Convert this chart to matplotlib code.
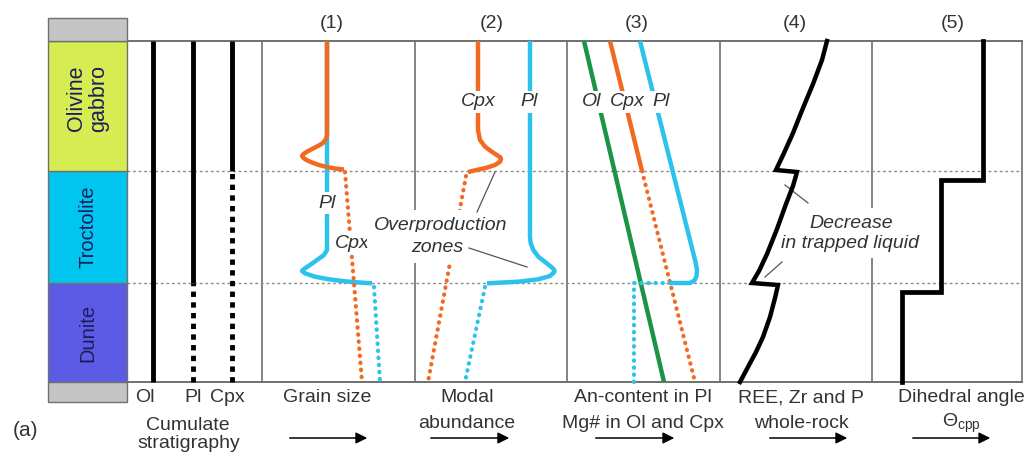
import matplotlib
matplotlib.use('Agg')
import matplotlib.pyplot as plt
from matplotlib.patches import Rectangle

plt.rcParams['font.family'] = ['Liberation Sans', 'DejaVu Sans']
plt.rcParams['mathtext.fontset'] = 'custom'
plt.rcParams['mathtext.rm'] = 'Liberation Sans'
plt.rcParams['mathtext.it'] = 'Liberation Sans:italic'

# ---------------- data (heights above base of section, schematic units) ----------------
strata_names = ['Dunite', 'Troctolite', 'Olivine\ngabbro']
strata_bounds = [0, 99, 211, 341]
strata_colors = ['#5b5be6', '#00c5ef', '#d6ec52']

# cumulate stratigraphy: phase, onset height as cumulus phase
cum_phases = ['Ol', 'Pl', 'Cpx']
cum_onset = [0, 99, 211]

panel_titles = ['(1)', '(2)', '(3)', '(4)', '(5)']

# (1) grain size  (x = relative value within panel)
gs_cpx_x = [65, 65, 64, 61, 56, 50, 44.5, 41.5, 40, 41.5, 44.5, 50, 57, 65, 73, 82]
gs_cpx_h = [341, 247, 243, 239, 236, 233, 230, 228, 226, 224, 222, 219.5, 217, 215, 213.5, 212.5]
gs_cpx_dot_x = [83, 100]
gs_cpx_dot_h = [210, 0]
gs_pl_x = [65, 65, 62, 55, 48, 43, 40.5, 40, 43, 53, 67, 83, 100, 110]
gs_pl_h = [341, 132, 127, 122, 117, 113.7, 111.8, 111, 108.7, 105.3, 102.7, 100.7, 99.3, 98.7]
gs_pl_dot_x = [112, 118]
gs_pl_dot_h = [95, 0]

# (2) modal abundance
ma_cpx_x = [63, 63, 65, 70, 76.7, 83.3, 85.5, 86, 85, 80, 71.7, 61.7, 53]
ma_cpx_h = [341, 252, 242, 235.3, 230.3, 226, 224.5, 223, 220.3, 217, 214.3, 212, 210]
ma_cpx_dot_x = [51, 13]
ma_cpx_dot_h = [206, 0]
ma_pl_x = [115, 115, 115.7, 118.3, 123.3, 131.7, 137, 139.3, 139.3, 135, 123.3, 103.3, 72]
ma_pl_h = [341, 145, 138.7, 132, 125.3, 118.7, 114.5, 112, 110, 106, 102.7, 100.3, 98.7]
ma_pl_dot_x = [70, 50]
ma_pl_dot_h = [95, 0]

# (3) An-content / Mg#
cc_ol_x = [17, 97]
cc_ol_h = [341, 0]
cc_cpx_x = [43, 75]
cc_cpx_h = [341, 211]
cc_cpx_dot_x = [75, 128]
cc_cpx_dot_h = [211, 0]
cc_pl_x = [73, 128.5, 130, 129.5, 127.5, 123, 103]
cc_pl_h = [341, 120, 112, 106, 101.5, 99, 99]
cc_pl_dot_x = [103, 67, 67]
cc_pl_dot_h = [99, 99, 0]

# (4) REE, Zr, P whole-rock
ree_x = [107, 102, 93, 83, 73, 64, 56, 77, 73, 66, 57, 47, 39, 32, 58, 55, 50, 43, 36, 28, 20]
ree_h = [341, 322, 298, 274, 249, 229, 212, 210, 196, 178, 153, 128, 111, 99, 97, 84, 65, 45, 30, 15, 0]

# (5) dihedral angle
da_x = [111, 111, 69, 69, 30, 30]
da_h = [341, 202, 202, 90, 90, 0]

bottom_labels = ['Grain size', 'Modal\nabundance', 'An-content in Pl\nMg# in Ol and Cpx',
                 'REE, Zr and P\nwhole-rock', 'Dihedral angle\nΘ$_{\\mathrm{cpp}}$']

# ---------------- layout / style ----------------
W, H = 1026, 457
fig = plt.figure(figsize=(W / 100, H / 100), dpi=100)
ax = fig.add_axes([0, 0, 1, 1])
ax.set_xlim(0, W)
ax.set_ylim(-75, 382)
ax.axis('off')

ORANGE = '#f26a22'
BLUE = '#2cc2ec'
GREEN = '#1b9447'
FRAME = '#707070'
TXT = '#333333'
FS = 14

col_x0, col_x1 = 48, 127
frame_x0, frame_x1 = 127, 1022
panel_left = [262, 415, 567, 720, 872]
dividers = panel_left + [1022]
cum_x = [153, 193, 232]

DOT = dict(linestyle=(0, (0.1, 1.6)), dash_capstyle='round', lw=3)
SQ = dict(linestyle=(0, (1.1, 1.1)), lw=3.5)
LW = 3.2

# stratigraphic column
for i, name in enumerate(strata_names):
    b, t = strata_bounds[i], strata_bounds[i + 1]
    ax.add_patch(Rectangle((col_x0, b), col_x1 - col_x0, t - b, facecolor=strata_colors[i],
                           edgecolor=FRAME, lw=1, zorder=2))
    yc = (b + t) / 2 + (8 if i == 2 else 0)
    ax.text((col_x0 + col_x1) / 2, yc, name, rotation=90, ha='center', va='center',
            fontsize=FS + (1.5 if i == 2 else 0.5), color='#1d1d5a', linespacing=1.05, zorder=3)
ax.add_patch(Rectangle((col_x0, strata_bounds[-1]), col_x1 - col_x0, 23, facecolor='#c4c4c4',
                       edgecolor=FRAME, lw=1, zorder=2))
ax.add_patch(Rectangle((col_x0, -20), col_x1 - col_x0, 20, facecolor='#c4c4c4',
                       edgecolor=FRAME, lw=1, zorder=2))

# frame
top = strata_bounds[-1]
ax.plot([frame_x0, frame_x1], [top, top], color=FRAME, lw=1.4, zorder=1)
ax.plot([frame_x0, frame_x1], [0, 0], color=FRAME, lw=1.4, zorder=1)
for xd in dividers:
    ax.plot([xd, xd], [0, top], color=FRAME, lw=1.2, zorder=1)
for hb in strata_bounds[1:3]:
    ax.plot([frame_x0, frame_x1], [hb, hb], color='#8a8a8a', lw=1.0,
            linestyle=(0, (2, 2)), zorder=1.5)

# cumulate stratigraphy lines
for x, h0, lab in zip(cum_x, cum_onset, cum_phases):
    ax.plot([x, x], [h0, top], color='black', lw=3.5, solid_capstyle='butt', zorder=3)
    if h0 > 0:
        ax.plot([x, x], [0, h0], color='black', zorder=3, **SQ)

def P(i, xs):
    return [panel_left[i] + v for v in xs]

SOL = dict(lw=LW, solid_joinstyle='round', solid_capstyle='butt')
# panel 1
ax.plot(P(0, gs_pl_x), gs_pl_h, color=BLUE, zorder=3, **SOL)
ax.plot(P(0, gs_pl_dot_x), gs_pl_dot_h, color=BLUE, zorder=3, **DOT)
ax.plot(P(0, gs_cpx_x), gs_cpx_h, color=ORANGE, zorder=3.1, **SOL)
ax.plot(P(0, gs_cpx_dot_x), gs_cpx_dot_h, color=ORANGE, zorder=3, **DOT)
# panel 2
ax.plot(P(1, ma_pl_x), ma_pl_h, color=BLUE, zorder=3, **SOL)
ax.plot(P(1, ma_pl_dot_x), ma_pl_dot_h, color=BLUE, zorder=3, **DOT)
ax.plot(P(1, ma_cpx_x), ma_cpx_h, color=ORANGE, zorder=3, **SOL)
ax.plot(P(1, ma_cpx_dot_x), ma_cpx_dot_h, color=ORANGE, zorder=3, **DOT)
# panel 3
ax.plot(P(2, cc_ol_x), cc_ol_h, color=GREEN, zorder=3, **SOL)
ax.plot(P(2, cc_cpx_x), cc_cpx_h, color=ORANGE, zorder=3, **SOL)
ax.plot(P(2, cc_cpx_dot_x), cc_cpx_dot_h, color=ORANGE, zorder=3, **DOT)
ax.plot(P(2, cc_pl_x), cc_pl_h, color=BLUE, zorder=3, **SOL)
ax.plot(P(2, cc_pl_dot_x), cc_pl_dot_h, color=BLUE, zorder=3, **DOT)
# panel 4
ax.plot(P(3, ree_x), ree_h, color='black', lw=3.2, zorder=6, solid_joinstyle='miter')
# panel 5
ax.plot(P(4, da_x), da_h, color='black', lw=3.4, zorder=3, solid_joinstyle='miter')

# labels with white background (create gaps in lines)
def lab(x, y, s, pad=1.5):
    ax.text(x, y, s, ha='center', va='center', fontsize=FS, style='italic', color=TXT,
            bbox=dict(facecolor='white', edgecolor='none', pad=pad), zorder=5)

lab(327, 179, 'Pl')
lab(352, 139, 'Cpx')
lab(478, 280, 'Cpx')
lab(529, 280, 'Pl')
lab(441, 157, 'Overproduction', pad=5)
lab(437, 135, 'zones', pad=5)
lab(592, 280, 'Ol')
lab(627, 280, 'Cpx')
lab(661, 280, 'Pl')
lab(851, 159, 'Decrease', pad=5)
lab(850, 138, 'in trapped liquid', pad=4)

LEAD = dict(color='#555555', lw=0.9, zorder=5.5)
ax.plot([477, 495], [170, 210], **LEAD)
ax.plot([469, 527], [134, 115], **LEAD)
ax.plot([808, 785], [179, 197], **LEAD)
ax.plot([782, 765], [120, 105], **LEAD)

# panel titles
for x, t in zip([332, 492, 637, 795, 953], panel_titles):
    ax.text(x, 359, t, ha='center', va='center', fontsize=FS, color=TXT)

# bottom labels
for x, t in zip([145, 193, 227], cum_phases):
    ax.text(x, -16, t, ha='center', va='center', fontsize=FS, color=TXT)
ax.text(188, -43, 'Cumulate', ha='center', va='center', fontsize=FS, color=TXT)
ax.text(189, -62, 'stratigraphy', ha='center', va='center', fontsize=FS, color=TXT)
ax.text(26, -48, '(a)', ha='center', va='center', fontsize=FS + 1, color=TXT)

label_x = [327, 467, 643, 801, 961]
arrow_x = [(287, 370), (428, 512), (593, 677), (767, 850), (910, 993)]
for x, t, (a0, a1) in zip(label_x, bottom_labels, arrow_x):
    for k, line in enumerate(t.split('\n')):
        ax.text(x, -16 - 25 * k, line, ha='center', va='center', fontsize=FS, color=TXT)
    ax.annotate('', xy=(a1, -56), xytext=(a0, -56),
                arrowprops=dict(arrowstyle='-|>', color='black', lw=1.1, mutation_scale=17))

fig.savefig('out.png', dpi=100)
